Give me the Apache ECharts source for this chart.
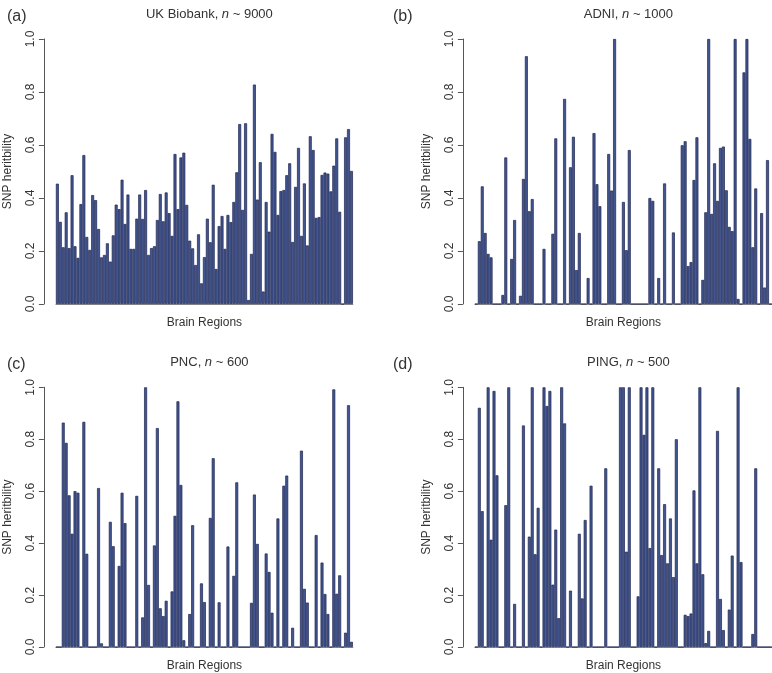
<!DOCTYPE html>
<html>
<head>
<meta charset="utf-8">
<script src="https://cdn.jsdelivr.net/npm/echarts@6/dist/echarts.min.js"></script>
<style>
  html, body { margin: 0; padding: 0; background: #fff; }
  #chart { width: 772px; height: 673px; }
</style>
</head>
<body>
<div id="chart"></div>
<script>
// 101 brain regions, same order in every panel
var regions = [];
for (var r = 1; r <= 101; r++) regions.push('R' + r);

var tickLabels = ['0.0', '0.2', '0.4', '0.6', '0.8', '1.0'];

// (a) UK Biobank
var ukbData = [
  0.454, 0.31, 0.214, 0.346, 0.211, 0.486, 0.218, 0.174, 0.377, 0.562,
  0.253, 0.204, 0.411, 0.392, 0.283, 0.176, 0.185, 0.229, 0.16, 0.259,
  0.375, 0.358, 0.469, 0.302, 0.413, 0.208, 0.208, 0.322, 0.413, 0.321,
  0.43, 0.185, 0.211, 0.218, 0.317, 0.415, 0.312, 0.421, 0.343, 0.257,
  0.566, 0.358, 0.553, 0.571, 0.374, 0.239, 0.21, 0.147, 0.263, 0.078,
  0.177, 0.322, 0.233, 0.45, 0.132, 0.294, 0.332, 0.208, 0.336, 0.309,
  0.385, 0.497, 0.679, 0.355, 0.682, 0.015, 0.189, 0.828, 0.394, 0.535,
  0.047, 0.385, 0.273, 0.642, 0.574, 0.336, 0.426, 0.43, 0.486, 0.531,
  0.234, 0.442, 0.589, 0.257, 0.455, 0.221, 0.633, 0.581, 0.325, 0.328,
  0.487, 0.496, 0.492, 0.425, 0.522, 0.625, 0.348, 0, 0.629, 0.66,
  0.502
];

// (b) ADNI
var adniData = [
  0, 0.237, 0.444, 0.268, 0.189, 0.176, 0, 0, 0, 0.034,
  0.553, 0, 0.17, 0.317, 0, 0.031, 0.472, 0.935, 0.35, 0.396,
  0, 0, 0, 0.208, 0, 0, 0.265, 0.625, 0, 0,
  0.774, 0, 0.516, 0.631, 0.128, 0.268, 0, 0, 0.098, 0,
  0.645, 0.452, 0.369, 0, 0, 0.566, 0.428, 1.0, 0, 0,
  0.385, 0.203, 0.581, 0, 0, 0, 0, 0, 0, 0.4,
  0.389, 0, 0.098, 0, 0.455, 0, 0, 0.27, 0, 0,
  0.599, 0.614, 0.143, 0.158, 0.468, 0.629, 0, 0.091, 0.346, 1.0,
  0.34, 0.531, 0.389, 0.589, 0.594, 0.429, 0.291, 0.275, 1.0, 0.019,
  0, 0.874, 1.0, 0.623, 0.214, 0.436, 0, 0.343, 0.062, 0.543,
  0
];

// (c) PNC
var pncData = [
  0, 0, 0.864, 0.786, 0.584, 0.436, 0.6, 0.594, 0, 0.867,
  0.359, 0, 0, 0, 0.612, 0.014, 0, 0, 0.482, 0.388,
  0, 0.312, 0.594, 0.477, 0, 0, 0, 0.582, 0, 0.114,
  1.0, 0.239, 0, 0.391, 0.843, 0.149, 0.119, 0.178, 0, 0.214,
  0.505, 0.946, 0.624, 0.026, 0, 0.127, 0.469, 0, 0, 0.245,
  0.173, 0, 0.497, 0.727, 0, 0.172, 0, 0, 0.387, 0,
  0.274, 0.634, 0, 0, 0, 0, 0.17, 0.587, 0.397, 0,
  0, 0.36, 0.289, 0.132, 0, 0.495, 0, 0.621, 0.66, 0,
  0.074, 0, 0, 0.756, 0.224, 0.171, 0, 0, 0.431, 0,
  0.325, 0.204, 0.127, 0, 0.992, 0.205, 0.276, 0, 0.055, 0.931,
  0.02
];

// (d) PING
var pingData = [
  0, 0.921, 0.523, 0, 1.0, 0.413, 0.986, 0.661, 0, 0,
  0.546, 1.0, 0, 0.166, 0, 0, 0.853, 0, 0.425, 1.0,
  0.357, 0.536, 0, 1.0, 0.928, 0.986, 0.24, 0.452, 0.111, 1.0,
  0.861, 0, 0.217, 0, 0, 0.436, 0.187, 0.489, 0, 0.621,
  0, 0, 0, 0, 0.688, 0, 0, 0, 0, 1.0,
  1.0, 0.367, 1.0, 0, 0, 0.195, 1.0, 0.817, 1.0, 0.381,
  1.0, 0, 0.688, 0.354, 0.55, 0.322, 0.495, 0.269, 0.8, 0,
  0, 0.124, 0.119, 0.129, 0.603, 0.322, 1.0, 0.28, 0.015, 0.062,
  0, 0, 0.832, 0.185, 0.065, 0, 0.144, 0.352, 0, 1.0,
  0.327, 0, 0, 0, 0.05, 0.688, 0, 0, 0, 0,
  0
];

var panels = [
  { tag: '(a)', name: 'UK Biobank, ', n: '9000', data: ukbData },
  { tag: '(b)', name: 'ADNI, ', n: '1000', data: adniData },
  { tag: '(c)', name: 'PNC, ', n: '600', data: pncData },
  { tag: '(d)', name: 'PING, ', n: '500', data: pingData }
];

var font = 'Liberation Sans, Arial, Helvetica, sans-serif';
var textColor = '#333';
var axisColor = '#555';

// bar area of each panel (px)
var gridBox = [
  { left: 55.9, top: 39, width: 297, height: 265 },
  { left: 474.9, top: 39, width: 297, height: 265 },
  { left: 55.9, top: 387.3, width: 297, height: 265.4 },
  { left: 474.9, top: 387.3, width: 297, height: 265.4 }
];
var panelOffsetX = [0, 386, 0, 386];
var titleTop = [3, 3, 351, 351];

var grids = [], xAxes = [], yAxes = [], series = [], titles = [];

panels.forEach(function (p, i) {
  var g = gridBox[i];
  grids.push({ left: g.left, top: g.top, width: g.width, height: g.height, containLabel: false });

  xAxes.push({
    type: 'category',
    gridIndex: i,
    data: regions,
    boundaryGap: true,
    axisLine: { show: true, lineStyle: { color: '#8a8a8a', width: 1 } },
    axisTick: { show: false },
    axisLabel: { show: false },
    splitLine: { show: false },
    name: 'Brain Regions',
    nameLocation: 'middle',
    nameGap: 13,
    nameTextStyle: { fontFamily: font, fontSize: 12, color: textColor }
  });

  yAxes.push({
    type: 'value',
    gridIndex: i,
    min: 0,
    max: 1,
    interval: 0.2,
    offset: 12,
    axisLine: { show: true, lineStyle: { color: axisColor, width: 1 } },
    axisTick: { show: true, length: 5, lineStyle: { color: axisColor } },
    axisLabel: {
      rotate: 90,
      margin: 7,
      fontFamily: font,
      fontSize: 12,
      color: textColor,
      formatter: function (v) { return tickLabels[Math.round(v * 5)]; }
    },
    splitLine: { show: false },
    name: 'SNP heritbility',
    nameLocation: 'middle',
    nameRotate: 90,
    nameGap: 30,
    nameTextStyle: { fontFamily: font, fontSize: 12, color: textColor }
  });

  series.push({
    type: 'bar',
    xAxisIndex: i,
    yAxisIndex: i,
    data: p.data,
    barCategoryGap: '0%',
    itemStyle: { color: '#42558f', borderColor: '#1c2552', borderWidth: 0.7 },
    silent: true,
    animation: false
  });

  titles.push({
    text: p.tag,
    left: panelOffsetX[i] + 2,
    top: titleTop[i] + 1,
    textStyle: { fontFamily: font, fontSize: 16, fontWeight: 'normal', color: textColor }
  });
  titles.push({
    text: '{a|' + p.name + '}{i|n}{a| ~ ' + p.n + '}',
    left: g.left + g.width / 2,
    textAlign: 'center',
    top: titleTop[i],
    textStyle: {
      fontFamily: font, fontSize: 13, fontWeight: 'normal', color: textColor,
      rich: {
        a: { fontFamily: font, fontSize: 13, color: textColor },
        i: { fontFamily: font, fontSize: 13, color: textColor, fontStyle: 'italic' }
      }
    }
  });
});

var chart = echarts.init(document.getElementById('chart'), null, { renderer: 'canvas' });
chart.setOption({
  backgroundColor: '#fff',
  animation: false,
  title: titles,
  grid: grids,
  xAxis: xAxes,
  yAxis: yAxes,
  series: series
});
</script>
</body>
</html>
